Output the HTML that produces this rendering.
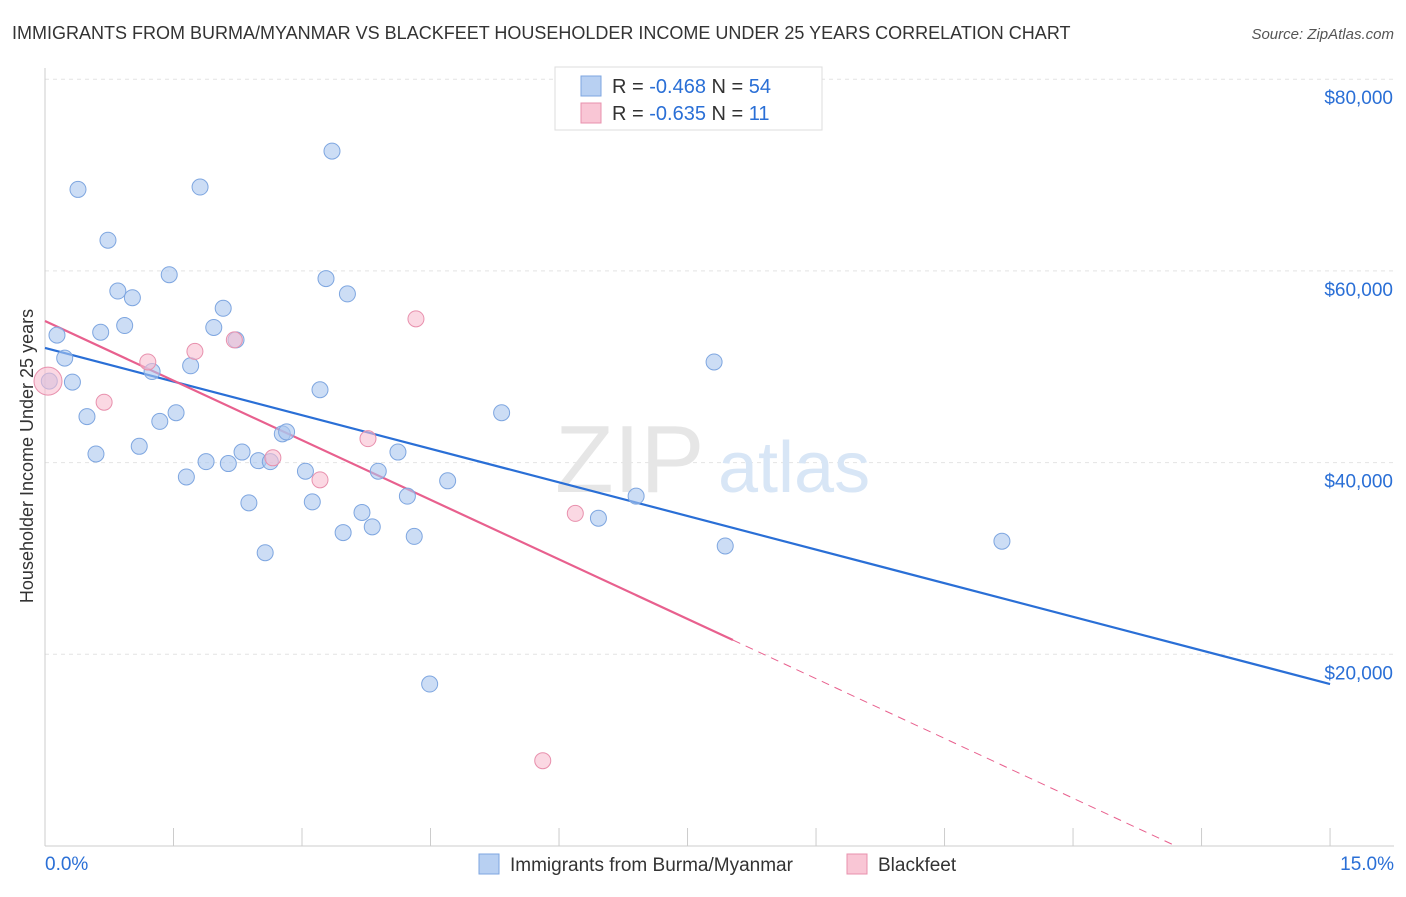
<!DOCTYPE html>
<html><head><meta charset="utf-8"><style>
body{margin:0;background:#fff;font-family:"Liberation Sans",sans-serif;}
svg text{font-family:"Liberation Sans",sans-serif;}
</style></head><body>
<svg id="chart" width="1406" height="892" viewBox="0 0 1406 892">
<text x="12" y="39" font-size="18" fill="#333">IMMIGRANTS FROM BURMA/MYANMAR VS BLACKFEET HOUSEHOLDER INCOME UNDER 25 YEARS CORRELATION CHART</text>
<text x="1394" y="39" font-size="15" fill="#555" font-style="italic" text-anchor="end">Source: ZipAtlas.com</text>
<g id="grid"></g>
<g id="axes"></g>
<text x="555" y="492" font-size="96" fill="#e6e6e6" font-family="Liberation Serif">ZIP</text>
<text x="718" y="492" font-size="72" fill="#d8e6f6">atlas</text>
<g id="lines"></g>
<g id="points"></g>
<text transform="translate(33,456) rotate(-90)" font-size="18" fill="#333" text-anchor="middle">Householder Income Under 25 years</text>
<g>
<rect x="555" y="67" width="267" height="63" fill="#fff" stroke="#ddd"/>
<rect x="581" y="76" width="20" height="20" fill="#b8d0f2" stroke="#7ea6e0"/>
<rect x="581" y="103" width="20" height="20" fill="#f9c6d5" stroke="#e890ad"/>
<text x="612" y="93" font-size="20" fill="#333">R = <tspan fill="#2a6fd6">-0.468</tspan>   N = <tspan fill="#2a6fd6">54</tspan></text>
<text x="612" y="120" font-size="20" fill="#333">R = <tspan fill="#2a6fd6">-0.635</tspan>   N = <tspan fill="#2a6fd6">  11</tspan></text>
</g>
<g>
<rect x="479" y="854" width="20" height="20" fill="#b8d0f2" stroke="#7ea6e0"/>
<text x="510" y="871" font-size="19" fill="#333">Immigrants from Burma/Myanmar</text>
<rect x="847" y="854" width="20" height="20" fill="#f9c6d5" stroke="#e890ad"/>
<text x="878" y="871" font-size="19" fill="#333">Blackfeet</text>
</g>
</svg>
<script>
const yTicks=[20000,40000,60000,80000];
const yTickLabels=["$20,000","$40,000","$60,000","$80,000"];
const xTickLabels=["0.0%","15.0%"];
const blueX=[0.385,1.81,3.35,0.735,1.45,0.85,1.02,3.28,3.53,2.08,0.93,0.65,1.97,0.14,2.23,0.23,1.25,1.70,0.32,0.05,3.21,7.81,1.53,0.49,1.34,5.33,1.10,0.595,2.77,2.82,2.30,4.12,1.88,2.14,2.49,2.63,3.04,3.89,1.65,4.70,4.23,6.90,2.38,3.12,3.70,6.46,3.82,3.48,4.31,7.94,11.17,2.57,4.49];
const blueY=[68500,68750,72500,63200,59600,57900,57200,59200,57600,56100,54300,53600,54100,53300,52800,50900,49500,50100,48400,48500,47600,50500,45200,44800,44300,45200,41700,40900,43000,43200,41100,41100,40100,39900,40200,40100,39100,39100,38500,38100,36500,36500,35800,35900,34800,34200,33300,32700,32300,31300,31800,30600,16900];
const pinkX=[0.035,0.69,1.20,1.75,2.21,4.33,3.77,2.66,3.21,6.19,5.81];
const pinkY=[48500,46300,50500,51600,52800,55000,42500,40500,38200,34700,8900];
const blueLine=[[0,51960],[15,16900]];
const pinkLine=[[0,54770],[8.03,21490]];
const pinkDash=[[8.03,21490],[13.2,0]];
const NS="http://www.w3.org/2000/svg";
const X=v=>45+v*85.67, Y=v=>846-v/20000*191.7;
function mk(tag,attrs,parent){const e=document.createElementNS(NS,tag);for(const k in attrs)e.setAttribute(k,attrs[k]);document.getElementById(parent).appendChild(e);return e;}
yTicks.forEach((t,i)=>{
 let g=mk('line',{x1:45,x2:1394,y1:Y(t),y2:Y(t),stroke:'#e4e4e4','stroke-dasharray':'4,4'},'grid');
 
 
 let tx=mk('text',{x:1393,y:Y(t)+25,'font-size':19,fill:'#2a6fd6','text-anchor':'end'},'axes');
 tx.textContent=yTickLabels[i];
 
 
});
let ax=mk('line',{x1:45,x2:1394,y1:846,y2:846,stroke:'#ccc'},'axes');


let ay=mk('line',{x1:45,x2:45,y1:68,y2:846,stroke:'#ccc'},'axes');


for(let i=0;i<=10;i++){
 let t=mk('line',{x1:X(i*1.5),x2:X(i*1.5),y1:828,y2:846,stroke:'#ccc'},'axes');
 
 
}
[[0,45,'start'],[15,1394,'end']].forEach((d,i)=>{
 let t=mk('text',{x:d[1],y:870,'font-size':19,fill:'#2a6fd6','text-anchor':d[2]},'axes');
 t.textContent=xTickLabels[i];
 
 
});
function line(p,col,dash,name){let l=mk('line',{x1:X(p[0][0]),y1:Y(p[0][1]),x2:X(p[1][0]),y2:Y(p[1][1]),stroke:col,'stroke-width':dash?1:2.2},'lines');if(dash)l.setAttribute('stroke-dasharray','8,6');
 
 }
line(blueLine,'#2a6fd6',false,'blue-trend-line');
line(pinkLine,'#e8608e',false,'pink-trend-line');
line(pinkDash,'#e8608e',true,'pink-trend-extension');
blueX.forEach((x,i)=>{let c=mk('circle',{cx:X(x),cy:Y(blueY[i]),r:8,fill:'rgba(170,198,238,0.6)',stroke:'#7ea6e0','stroke-width':1},'points');
 
 });
pinkX.forEach((x,i)=>{let c=mk('circle',{cx:X(x),cy:Y(pinkY[i]),r:i==0?14:8,fill:'rgba(248,190,208,0.6)',stroke:'#e890ad','stroke-width':1},'points');
 
 });
</script>
</body></html>
